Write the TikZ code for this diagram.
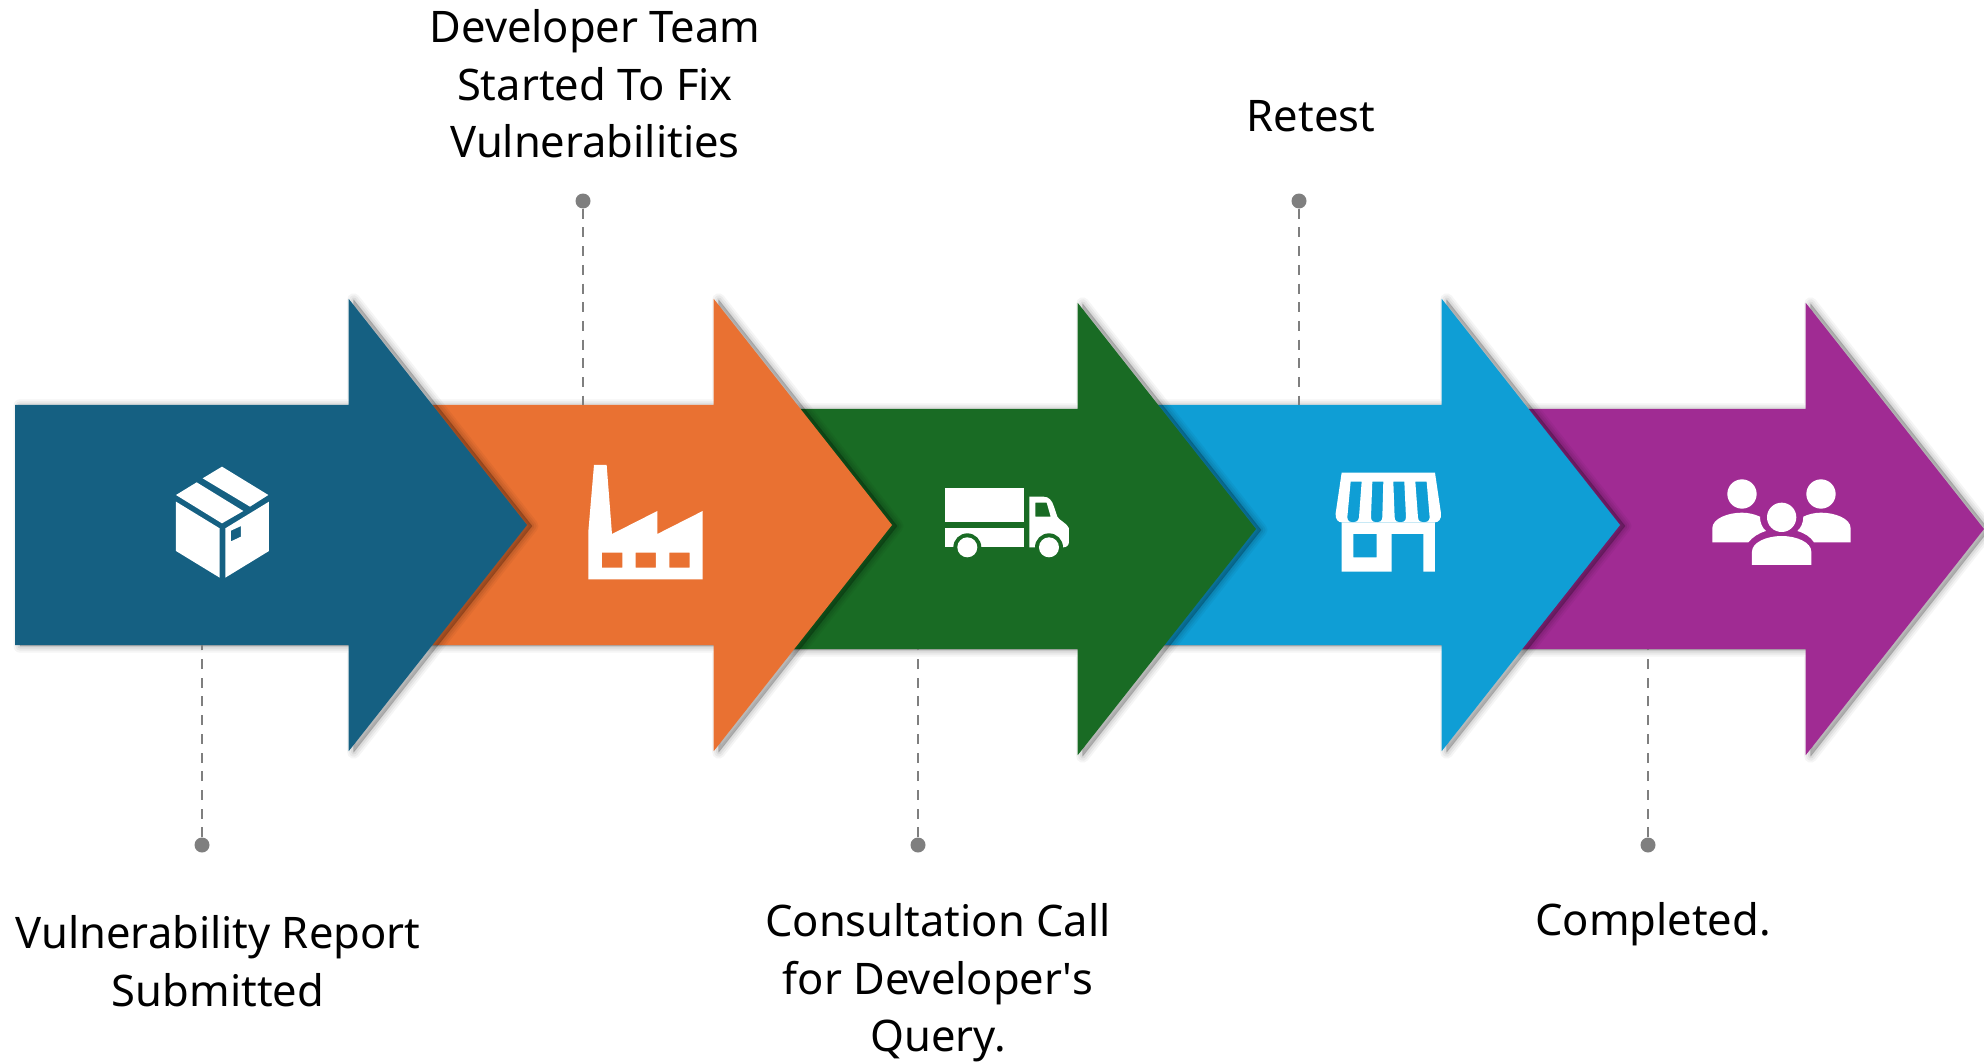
\documentclass[tikz,border=0pt]{standalone}
\usepackage{fontspec}
\setmainfont{Noto Sans}
\usepackage{xcolor}
\usepackage{tikz}
\usetikzlibrary{positioning,shapes.arrows,shadows}

\definecolor{stepblue}{HTML}{156082}
\definecolor{steporange}{HTML}{E97132}
\definecolor{stepgreen}{HTML}{196B24}
\definecolor{stepcyan}{HTML}{0F9ED5}
\definecolor{steppurple}{HTML}{A02B93}
\definecolor{leadergray}{HTML}{7F7F7F}

\tikzset{
	softshade/.style={
		general shadow={fill=black,draw=black,opacity=.04,line width=13pt,line join=round,shadow xshift=5pt,shadow yshift=-1pt},
		general shadow={fill=black,draw=black,opacity=.05,line width=9pt,line join=round,shadow xshift=5pt,shadow yshift=-1pt},
		general shadow={fill=black,draw=black,opacity=.06,line width=5pt,line join=round,shadow xshift=5pt,shadow yshift=-1pt},
		general shadow={fill=black,draw=black,opacity=.08,line width=1pt,line join=round,shadow xshift=5pt,shadow yshift=-1pt}},
	steparrow/.style={single arrow, softshade, inner xsep=0pt, inner ysep=120pt, outer sep=0pt, minimum height=512pt,
		single arrow head extend=106pt, single arrow tip angle=103.5, anchor=tail},
	leaderdot/.style={circle, fill=leadergray, inner sep=0pt, minimum size=15pt},
	leader/.style={draw=leadergray, line width=2.4pt, dash pattern=on 10pt off 8.7pt},
	steptext/.style={inner sep=0pt, align=center, font=\fontsize{43.5}{57.5}\selectfont, text=black},
	icon/.style={fill=white, even odd rule},
	iconat/.style={x=1pt, y=-1pt, scale=1/3}
}

\begin{document}
\begin{tikzpicture}[x=1pt,y=-1pt]
		\useasboundingbox (0,0) rectangle (1984,1062);

		% arrows, last one first
		\node[steparrow, fill=steppurple] (arrow5) at (1472,529) {};
		\node[steparrow, fill=stepcyan] (arrow4) at (1108,525) {};
		\node[steparrow, fill=stepgreen] (arrow3) at (744,529) {};
		\node[steparrow, fill=steporange] (arrow2) at (380,525) {};
		\node[steparrow, fill=stepblue] (arrow1) at (15,525) {};

		% leaders
		\node[leaderdot] (dot1) at (202,845) {};
		\draw[leader] (dot1) -- (dot1 |- arrow1.south);
		\node[leaderdot] (dot2) at (583,201) {};
		\draw[leader] (dot2) -- (dot2 |- arrow2.north);
		\node[leaderdot] (dot3) at (918,845) {};
		\draw[leader] (dot3) -- (dot3 |- arrow3.south);
		\node[leaderdot] (dot4) at (1299,201) {};
		\draw[leader] (dot4) -- (dot4 |- arrow4.north);
		\node[leaderdot] (dot5) at (1648,845) {};
		\draw[leader] (dot5) -- (dot5 |- arrow5.south);

		% labels
		\node[steptext, below = 63pt of dot1, xshift=16pt] (text1) {Vulnerability Report\\Submitted};
		\node[steptext, above = 35pt of dot2, xshift=12pt] (text2) {Developer Team\\Started To Fix\\Vulnerabilities};
		\node[steptext, below = 51pt of dot3, xshift=20pt] (text3) {Consultation Call\\for Developer\textquotesingle s\\Query.};
		\node[steptext, above = 61pt of dot4, xshift=12pt] (text4) {Retest};
		\node[steptext, below = 50pt of dot5, xshift=5pt] (text5) {Completed.};

		% box
		\begin{scope}[iconat, shift={(450,1320)}]
			\fill[icon] (216,80) -- (355,165) -- (300,200) -- (158,115) -- cycle;
			\fill[icon] (140,127) -- (280,213) -- (216,250) -- (78,165) -- cycle;
			\fill[icon] (78,185) -- (209,265) -- (209,413) -- (78,333) -- cycle;
			\fill[icon] (226,265) -- (357,185) -- (357,333) -- (226,413) -- cycle
				(243,272) -- (273,258) -- (273,290) -- (243,304) -- cycle;
		\end{scope}

		% factory
		\begin{scope}[iconat, shift={(1710,1350)}]
			\fill[icon] (72,45) -- (110,45) -- (126,252) -- (262,183) -- (262,252) -- (398,183) -- (398,388) -- (55,388) -- (55,245) -- cycle
				(96,308) rectangle (157,353)
				(197,308) rectangle (258,353)
				(298,308) rectangle (359,353);
		\end{scope}

		% truck
		\begin{scope}[iconat, shift={(2790,1410)}]
			\fill[white] (45,54) rectangle (282,155);
			\fill[white] (45,174) rectangle (282,232);
			\fill[icon] (298,80) -- (340,80) .. controls (358,80) and (366,92) .. (372,110) -- (382,140) .. controls (386,150) and (412,160) .. (417,175) -- (417,215) .. controls (417,226) and (410,232) .. (400,232) -- (298,232) -- cycle
				(316,98) -- (350,98) -- (362,140) -- (316,140) -- cycle;
			\fill[stepgreen] (112,232) circle[radius=42];
			\fill[stepgreen] (357,232) circle[radius=42];
			\fill[white] (112,232) circle[radius=30];
			\fill[white] (357,232) circle[radius=30];
		\end{scope}

		% shop
		\begin{scope}[iconat, shift={(3960,1380)}]
			\fill[icon] (65,38) -- (345,38) -- (363,160) .. controls (365,178) and (355,187) .. (345,187) -- (65,187) .. controls (55,187) and (45,178) .. (47,160) -- cycle
				(92,65) -- (125,65) -- (117,172) .. controls (115,193) and (82,193) .. (82,172) -- cycle
				(157,65) -- (190,65) -- (187,172) .. controls (187,193) and (153,193) .. (153,172) -- cycle
				(220,65) -- (253,65) -- (258,172) .. controls (258,193) and (224,193) .. (224,172) -- cycle
				(286,65) -- (320,65) -- (329,172) .. controls (329,193) and (294,193) .. (294,172) -- cycle;
			\fill[icon] (65,187) -- (345,187) -- (345,335) -- (310,335) -- (310,222) -- (215,222) -- (215,335) -- (65,335) -- cycle
				(100,222) rectangle (170,292);
		\end{scope}

		% people
		\begin{scope}[iconat, shift={(5100,1395)}]
			\fill[white] (126,87) circle[radius=44];
			\fill[white] (363,87) circle[radius=44];
			\fill[white] (245,157) circle[radius=44];
			\fill[white] (37,232) -- (37,190) .. controls (37,160) and (85,143) .. (126,143) .. controls (145,143) and (165,148) .. (180,155) .. controls (180,172) and (186,188) .. (198,198) .. controls (175,205) and (158,216) .. (145,232) -- cycle;
			\fill[white] (452,232) -- (452,190) .. controls (452,160) and (404,143) .. (363,143) .. controls (344,143) and (324,148) .. (310,155) .. controls (310,172) and (304,188) .. (292,198) .. controls (315,205) and (332,216) .. (342,232) -- cycle;
			\fill[white] (156,300) -- (156,260) .. controls (156,232) and (200,213) .. (245,213) .. controls (290,213) and (334,232) .. (334,260) -- (334,300) -- cycle;
		\end{scope}

	\end{tikzpicture}
\end{document}
